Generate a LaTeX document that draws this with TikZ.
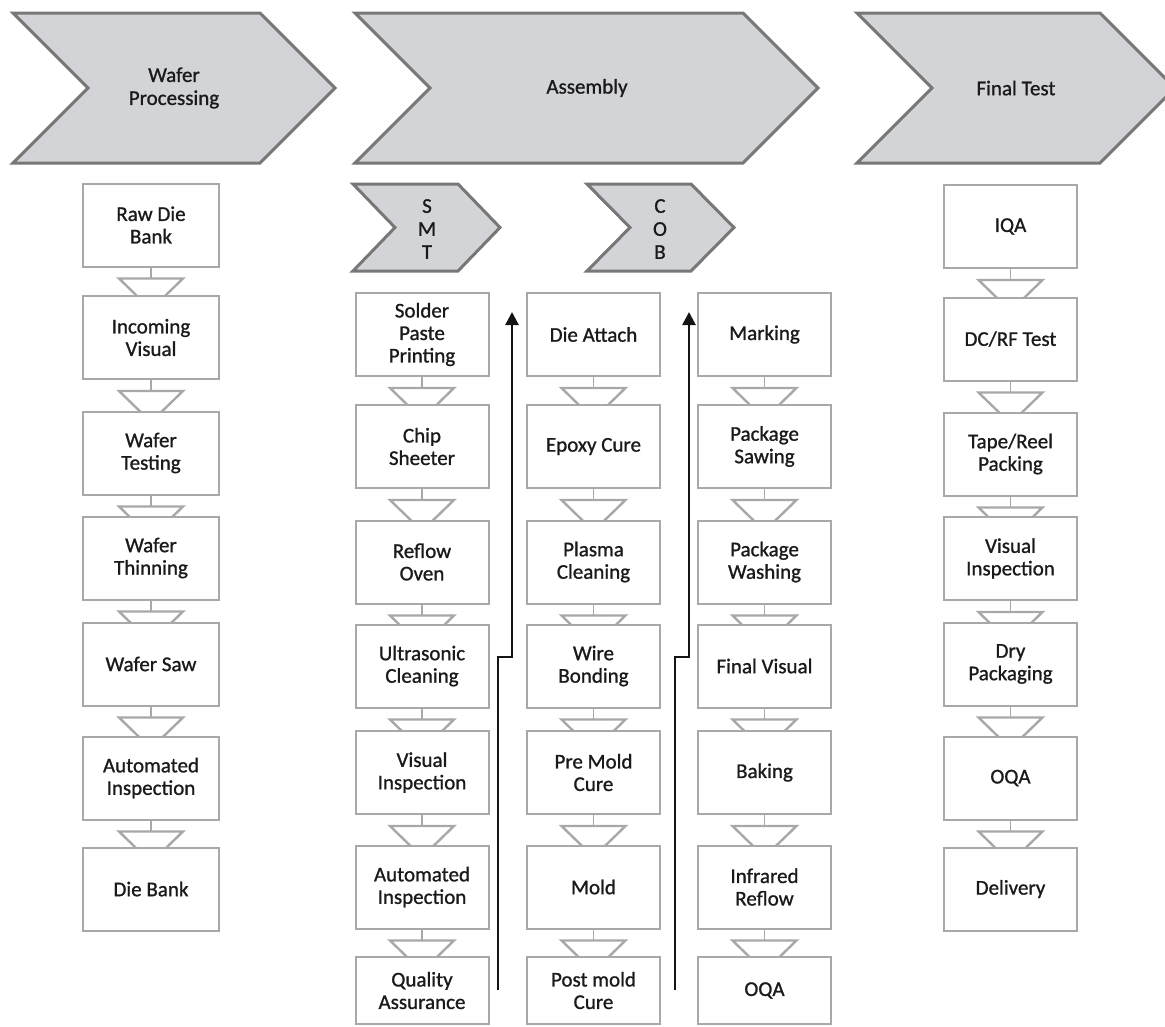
\documentclass[tikz,border=0pt]{standalone}
\usepackage{fontspec}
\setmainfont{Carlito}[BoldFont=Carlito, BoldFeatures={FakeBold=1.0}]
\usetikzlibrary{arrows.meta,calc}
\pgfdeclarelayer{background}
\pgfsetlayers{background,main}
\definecolor{boxgray}{HTML}{A8A8A8}
\definecolor{chevfill}{HTML}{D3D4D8}
\definecolor{chevline}{HTML}{777777}
\definecolor{txt}{HTML}{1A1A1A}
\tikzset{
  stepbox/.style={draw=boxgray, line width=2pt, fill=white, align=center, text=txt,
    minimum height=83pt, minimum width=133pt, inner sep=2pt,
    font=\fontsize{21}{22.5}\selectfont\bfseries},
  widebox/.style={stepbox, minimum width=136pt},
  chev/.style={draw=chevline, line width=3pt, fill=chevfill, line join=miter},
  chevtext/.style={align=center, text=txt, font=\fontsize{21}{23}\selectfont\bfseries},
  linkline/.style={draw=boxgray, line width=1.6pt},
  linktri/.style={draw=boxgray, line width=2.4pt, fill=white, line join=miter},
  flowarrow/.style={draw=black!92, line width=2.6pt, -{Triangle[length=13pt,width=13pt]}}
}
% chevron: x y w h d
\newcommand{\chevshape}[5]{%
  \draw[chev] (#1,#2) -- ++(#3,0) -- ++(#5,#4/2) -- ++(-#5,#4/2) -- ++(-#3,0) -- ++(#5,-#4/2) -- cycle;}
\begin{document}
\begin{tikzpicture}[x=1pt,y=-1pt]
\useasboundingbox (0,0) rectangle (1165,1026);
\clip (0,0) rectangle (1165,1026);

% ---- top chevrons
\chevshape{13}{13}{247}{150}{75}
\node[chevtext] (hwp) at (174,88) {Wafer\\Processing};
\chevshape{355}{13}{388}{150}{75}
\node[chevtext] (has) at (587,88) {Assembly};
\chevshape{857}{13}{243}{150}{75}
\node[chevtext] (hft) at (1016,88) {Final Test};
\chevshape{353}{184}{105}{87}{42}
\node[chevtext] (hsmt) at (427,229) {S\\M\\T};
\chevshape{587}{184}{104}{87}{43}
\node[chevtext] (hcob) at (660,229) {C\\O\\B};

% ---- Wafer processing column
\node[widebox] (w1) at (151,225) {Raw Die\\Bank};
\node[widebox] (w2) at (151,337.5) {Incoming\\Visual};
\node[widebox] (w3) at (151,453) {Wafer\\Testing};
\node[widebox] (w4) at (151,558) {Wafer\\Thinning};
\node[widebox] (w5) at (151,664) {Wafer Saw};
\node[widebox] (w6) at (151,778) {Automated\\Inspection};
\node[widebox] (w7) at (151,889) {Die Bank};

% ---- SMT column
\node[stepbox] (s1) at (422,334.5) {Solder\\Paste\\Printing};
\node[stepbox] (s2) at (422,446.5) {Chip\\Sheeter};
\node[stepbox] (s3) at (422,562) {Reflow\\Oven};
\node[stepbox] (s4) at (422,666) {Ultrasonic\\Cleaning};
\node[stepbox] (s5) at (422,772.5) {Visual\\Inspection};
\node[stepbox] (s6) at (422,887) {Automated\\Inspection};
\node[stepbox, minimum height=67pt] (s7) at (422,990.5) {Quality\\Assurance};

% ---- COB column
\node[stepbox] (c1) at (593.5,334.5) {Die Attach};
\node[stepbox] (c2) at (593.5,446.5) {Epoxy Cure};
\node[stepbox] (c3) at (593.5,562) {Plasma\\Cleaning};
\node[stepbox] (c4) at (593.5,666) {Wire\\Bonding};
\node[stepbox] (c5) at (593.5,772.5) {Pre Mold\\Cure};
\node[stepbox] (c6) at (593.5,887) {Mold};
\node[stepbox, minimum height=67pt] (c7) at (593.5,990.5) {Post mold\\Cure};

% ---- Package column
\node[stepbox] (p1) at (764.5,334.5) {Marking};
\node[stepbox] (p2) at (764.5,446.5) {Package\\Sawing};
\node[stepbox] (p3) at (764.5,562) {Package\\Washing};
\node[stepbox] (p4) at (764.5,666) {Final Visual};
\node[stepbox] (p5) at (764.5,772.5) {Baking};
\node[stepbox] (p6) at (764.5,887) {Infrared\\Reflow};
\node[stepbox, minimum height=67pt] (p7) at (764.5,990.5) {OQA};

% ---- Final test column
\node[stepbox] (f1) at (1010.5,226.5) {IQA};
\node[stepbox] (f2) at (1010.5,339) {DC/RF Test};
\node[stepbox] (f3) at (1010.5,454) {Tape/Reel\\Packing};
\node[stepbox] (f4) at (1010.5,558.5) {Visual\\Inspection};
\node[stepbox] (f5) at (1010.5,664) {Dry\\Packaging};
\node[stepbox] (f6) at (1010.5,778) {OQA};
\node[stepbox] (f7) at (1010.5,889) {Delivery};

% ---- connectors (drawn behind the boxes)
\begin{pgfonlayer}{background}
\foreach \a/\b in {w1/w2,w2/w3,w3/w4,w4/w5,w5/w6,w6/w7,
                   s1/s2,s2/s3,s3/s4,s4/s5,s5/s6,s6/s7,
                   c1/c2,c2/c3,c3/c4,c4/c5,c5/c6,c6/c7,
                   p1/p2,p2/p3,p3/p4,p4/p5,p5/p6,p6/p7,
                   f1/f2,f2/f3,f3/f4,f4/f5,f5/f6,f6/f7}{
    \draw[linkline] (\a.south) -- ($(\a.south)+(0,11)$);
    \draw[linktri] ($(\a.south)+(-32,11)$) -- ($(\a.south)+(32,11)$) -- ($(\a.south)+(0,42)$) -- cycle;
}
\end{pgfonlayer}

% ---- flow arrows
\coordinate (a1s) at (498,990);
\coordinate (a1m) at (512,657);
\coordinate (a1e) at (512,312);
\draw[flowarrow] (a1s) -- (a1s |- a1m) -- (a1m) -- (a1e);
\coordinate (a2s) at (675,990);
\coordinate (a2m) at (689,657);
\coordinate (a2e) at (689,312);
\draw[flowarrow] (a2s) -- (a2s |- a2m) -- (a2m) -- (a2e);
\end{tikzpicture}
\end{document}
